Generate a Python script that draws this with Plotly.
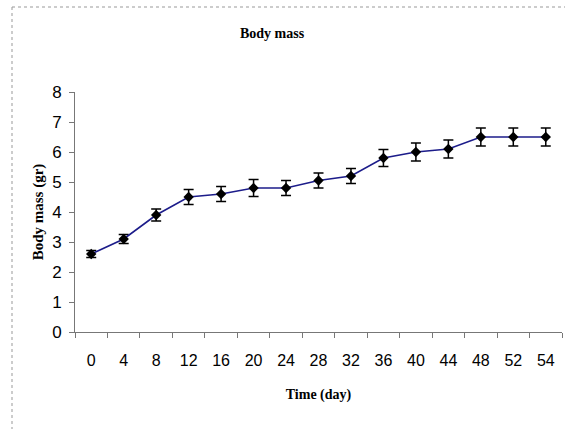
import plotly.graph_objects as go

days = ["0", "4", "8", "12", "16", "20", "24", "28", "32", "36", "40", "44", "48", "52", "54"]
body_mass = [2.6, 3.1, 3.9, 4.5, 4.6, 4.8, 4.8, 5.05, 5.2, 5.8, 6.0, 6.1, 6.5, 6.5, 6.5]
error = [0.12, 0.15, 0.2, 0.25, 0.25, 0.28, 0.25, 0.25, 0.25, 0.28, 0.3, 0.3, 0.3, 0.3, 0.3]
y_ticks = [0, 1, 2, 3, 4, 5, 6, 7, 8]

W, H = 565, 429
L, R, T, B = 75, 3, 92, 97
pw, ph = W - L - R, H - T - B

def px_x(p):
    return (p - L) / pw

def px_y(p):
    return (H - B - p) / ph

fig = go.Figure()
fig.add_trace(go.Scatter(
    x=days, y=body_mass,
    mode="lines+markers",
    line=dict(color="#1c1c8a", width=1.6),
    marker=dict(symbol="diamond", size=8, color="black"),
    error_y=dict(type="data", array=error, visible=True, color="black", thickness=1.5, width=5),
    showlegend=False,
))

serif = "Liberation Serif, Times New Roman, serif"
sans = "Liberation Sans, Arial, sans-serif"

fig.update_layout(
    width=W, height=H,
    margin=dict(l=L, r=R, t=T, b=B),
    paper_bgcolor="white", plot_bgcolor="white",
    xaxis=dict(
        type="category", range=[-0.5, 14.5],
        tickson="boundaries", ticks="outside", ticklen=5, tickcolor="#777",
        showline=True, linecolor="#777", linewidth=1, showgrid=False,
        ticklabelstandoff=14,
        tickfont=dict(family=sans, size=16, color="black"),
        title=dict(text="<b>Time (day)</b>", font=dict(family=serif, size=14, color="black"), standoff=20),
    ),
    yaxis=dict(
        range=[0, 8], tickvals=y_ticks, ticks="outside", ticklen=5, tickcolor="#777",
        showline=True, linecolor="#777", linewidth=1, showgrid=False, zeroline=False,
        ticklabelstandoff=4,
        tickfont=dict(family=sans, size=17, color="black"),
        title=dict(text="<b>Body mass (gr)</b>", font=dict(family=serif, size=15, color="black"), standoff=4),
    ),
    annotations=[dict(
        text="<b>Body mass</b>", x=px_x(272), y=px_y(33), xref="paper", yref="paper",
        showarrow=False, xanchor="center", yanchor="middle",
        font=dict(family=serif, size=14, color="black"),
    )],
    shapes=[
        dict(type="line", xref="paper", yref="paper", x0=px_x(12), x1=px_x(566), y0=px_y(7), y1=px_y(7),
             line=dict(color="#999", width=1, dash="dot")),
        dict(type="line", xref="paper", yref="paper", x0=px_x(12), x1=px_x(12), y0=px_y(7), y1=px_y(430),
             line=dict(color="#999", width=1, dash="dot")),
    ],
)

fig.write_html("out.html")
